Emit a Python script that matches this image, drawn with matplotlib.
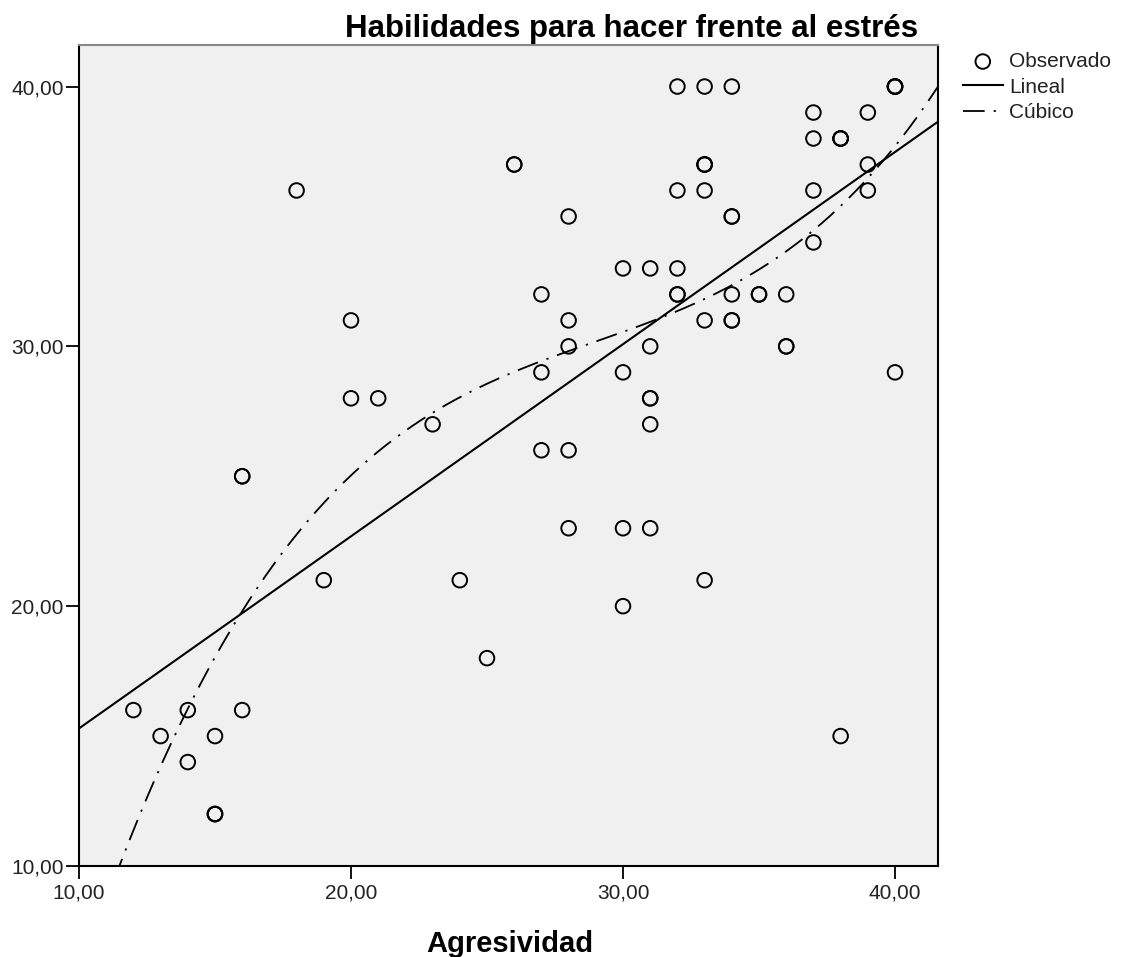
import numpy as np
import matplotlib.pyplot as plt

# Agresividad (x) vs Habilidades para hacer frente al estrés (y)
# (repeated pairs = overlapping circles drawn darker in the original)
agresividad = [12, 13, 14, 14, 15, 15, 15, 15, 16, 16, 16, 18, 19, 20, 20, 21, 23, 24, 25,
               26, 26, 27, 27, 27, 28, 28, 28, 28, 28, 30, 30, 30, 30,
               31, 31, 31, 31, 31, 31, 32, 32, 32, 32, 32, 33, 33, 33, 33, 33, 33, 33,
               34, 34, 34, 34, 34, 34, 35, 35, 36, 36, 36, 37, 37, 37, 37,
               38, 38, 38, 38, 39, 39, 39, 40, 40, 40, 40, 40]
habilidades = [16, 15, 16, 14, 15, 12, 12, 12, 25, 25, 16, 36, 21, 31, 28, 28, 27, 21, 18,
               37, 37, 32, 29, 26, 35, 31, 30, 26, 23, 33, 29, 23, 20,
               33, 30, 28, 28, 27, 23, 40, 36, 33, 32, 32, 40, 37, 37, 37, 36, 31, 21,
               40, 35, 35, 32, 31, 31, 32, 32, 32, 30, 30, 39, 38, 36, 34,
               38, 38, 38, 15, 39, 37, 36, 40, 40, 40, 40, 29]

x_ticks = [10, 20, 30, 40]
y_ticks = [10, 20, 30, 40]

x = np.array(agresividad, dtype=float)
y = np.array(habilidades, dtype=float)
lin = np.polyfit(x, y, 1)
cub = np.polyfit(x, y, 3)

plt.rcParams['font.family'] = ['Liberation Sans', 'DejaVu Sans']

fig = plt.figure(figsize=(11.22, 9.57), dpi=100)
ax = fig.add_axes([0.0704, 0.0951, 0.7656, 0.8579])
ax.set_facecolor('#f0f0f0')

xmin, xmax = 10, 41.58
ymin, ymax = 10, 41.6
xs = np.linspace(xmin, xmax, 400)

ax.scatter(x, y, s=110, facecolors='none', edgecolors='black', linewidths=1.4,
           label='Observado', zorder=3)
ax.plot(xs, np.polyval(lin, xs), color='black', lw=1.5, label='Lineal', zorder=2)
ax.plot(xs, np.polyval(cub, xs), color='black', lw=1.3, dashes=(12, 5, 1.2, 5),
        label='Cúbico', zorder=2)

ax.set_xlim(xmin, xmax)
ax.set_ylim(ymin, ymax)
ax.set_xticks(x_ticks)
ax.set_yticks(y_ticks)
ax.set_xticklabels(['{:.2f}'.format(v).replace('.', ',') for v in x_ticks])
ax.set_yticklabels(['{:.2f}'.format(v).replace('.', ',') for v in y_ticks])
ax.tick_params(direction='out', length=9.5, width=1.3, labelsize=15, colors='black',
               labelcolor='#222222')
ax.tick_params(axis='x', pad=3)
ax.tick_params(axis='y', pad=1.5)
for s in ax.spines.values():
    s.set_linewidth(1.5)
ax.spines['top'].set_color('#888888')

fig.text(510 / 1122, 1 - 952 / 957, 'Agresividad', fontsize=21, fontweight='bold',
         ha='center', va='baseline')
fig.text(918 / 1122, 1 - 37 / 957, 'Habilidades para hacer frente al estrés',
         fontsize=22.5, fontweight='bold', ha='right', va='baseline')

leg = ax.legend(loc='upper left', bbox_to_anchor=(963 / 1122, 1 - 52 / 957),
                bbox_transform=fig.transFigure, frameon=False,
                fontsize=15, handlelength=1.9, handletextpad=0.3, labelspacing=0.32,
                borderaxespad=0, borderpad=0)
for t in leg.get_texts():
    t.set_color('#222222')

plt.savefig('out.png', dpi=100)
